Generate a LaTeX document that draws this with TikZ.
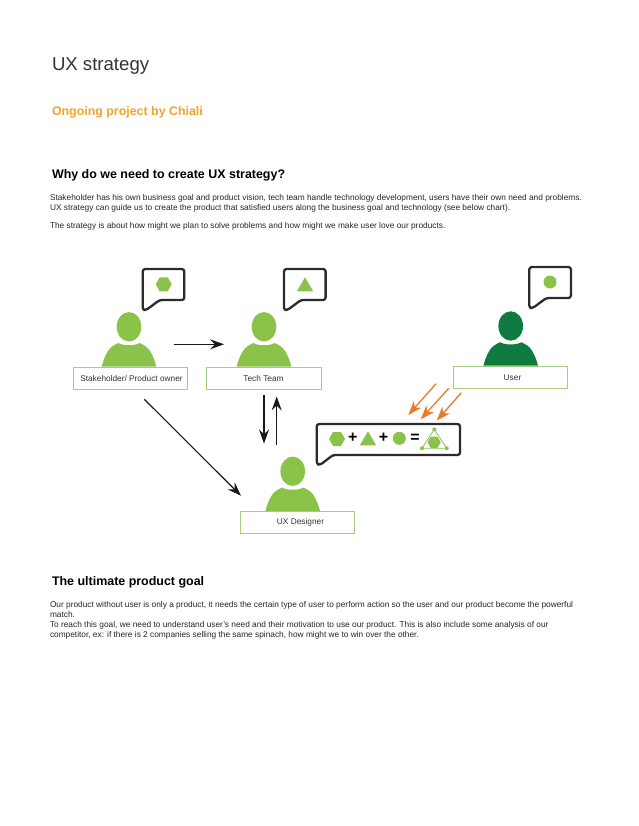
\documentclass[tikz,border=0pt]{standalone}
\usepackage{fontspec}
\setmainfont{Liberation Sans}
\usetikzlibrary{arrows.meta}
\definecolor{lgreen}{HTML}{8BC34A}
\definecolor{dgreen}{HTML}{107B41}
\definecolor{boxgreen}{HTML}{A9CC80}
\definecolor{inkk}{HTML}{2B2B2B}
\definecolor{orangeA}{HTML}{E97B30}
\definecolor{titleorange}{HTML}{F0A428}
\tikzset{
  x=1pt,y=-1pt,
  txt/.style={anchor=base west,inner sep=0pt,outer sep=0pt},
  body/.style={txt,font=\fontsize{8.32}{10}\selectfont,text=black!85},
  head/.style={txt,font=\fontsize{12.45}{15}\bfseries\selectfont,text=black},
  rolebox/.style={draw=boxgreen,line width=0.8pt,fill=white,minimum width=114.4pt,minimum height=22pt,inner sep=0pt,font=\fontsize{8.3}{10}\selectfont,text=black!80},
  rolelabel/.style={inner sep=0pt,font=\fontsize{8.3}{10}\selectfont,text=black!80},
  bubble/.style={draw=inkk,line width=2.3pt,fill=white,rounded corners=2.5pt,line join=round},
  flow/.style={draw=black!90,line width=1.1pt,-{Stealth[length=14pt,width=10pt,inset=5pt]}},
  oflow/.style={draw=orangeA,line width=1.3pt,-{Stealth[length=14pt,width=10pt,inset=4pt]}},
  sym/.style={inner sep=0pt,font=\fontsize{16}{16}\bfseries\selectfont,text=black},
  person/.pic={
    \fill[pic actions] (0,-39.7) ellipse[x radius=12.3,y radius=14.7];
    \fill[pic actions] (-27.3,0) .. controls (-26,-5) and (-24,-11) .. (-21,-15.5)
      .. controls (-19,-19) and (-15,-21.5) .. (-10.7,-23.5)
      .. controls (-6,-20.5) and (6,-20.5) .. (10.7,-23.5)
      .. controls (15,-21.5) and (19,-19) .. (21,-15.5)
      .. controls (24,-11) and (26,-5) .. (27.3,0) -- cycle;
  },
  speech/.pic={
    \draw[bubble] (0,0) -- (41.6,0) -- (41.6,31) -- (17,31) -- (3.5,41) -- (0,41) -- cycle;
  },
  hexa/.pic={
    \fill[lgreen] (-8,0) -- (-4,-7) -- (4,-7) -- (8,0) -- (4,7) -- (-4,7) -- cycle;
  },
  tri/.pic={
    \fill[lgreen] (-8.2,7) -- (0,-7) -- (8.2,7) -- cycle;
  }
}
\begin{document}
\begin{tikzpicture}
\useasboundingbox[fill=white] (0,0) rectangle (638,826);
% text
\node[txt,font=\fontsize{18.6}{22}\selectfont,text=black!80] (title) at (52,71) {UX strategy};
\node[txt,font=\fontsize{12.4}{15}\bfseries\selectfont,text=titleorange] (sub) at (52,116) {Ongoing project by Chiali};
\node[head] (h1) at (52,179) {Why do we need to create UX strategy?};
\node[body] (b1) at (50,201) {Stakeholder has his own business goal and product vision, tech team handle technology development, users have their own need and problems.};
\node[body] (b2) at (50,211) {UX strategy can guide us to create the product that satisfied users along the business goal and technology (see below chart).};
\node[body] (b3) at (50,229) {The strategy is about how might we plan to solve problems and how might we make user love our products.};
\node[head] (h2) at (52,585.5) {The ultimate product goal};
\node[body] (c1) at (50,607) {Our product without user is only a product, it needs the certain type of user to perform action so the user and our product become the powerful};
\node[body] (c2) at (50,617) {match.};
\node[body] (c3) at (50,627) {To reach this goal, we need to understand user's need and their motivation to use our product. This is also include some analysis of our};
\node[body] (c4) at (50,637) {competitor, ex: if there is 2 companies selling the same spinach, how might we to win over the other.};
% people
\pic[fill=lgreen] at (129,366.5) {person};
\pic[fill=lgreen] at (264,366.5) {person};
\pic[fill=dgreen] at (510.7,365.7) {person};
\pic[fill=lgreen] at (292.7,511) {person};
\node[rolebox] (stake) at (130.5,378.3) {};
\node[rolebox] (tech) at (264,378.3) {};
\node[rolebox] (user) at (510.5,377.3) {};
\node[rolebox] (ux) at (297.5,522) {};
\node[rolelabel] (stakel) at (131.5,379) {Stakeholder/ Product owner};
\node[rolelabel] (techl) at (263.5,379) {Tech Team};
\node[rolelabel] (userl) at (512.5,378) {User};
\node[rolelabel] (uxl) at (300.5,522.7) {UX Designer};
% bubbles
\pic at (142.7,269) {speech};
\pic at (284,269) {speech};
\pic at (529.3,267) {speech};
\pic at (163.7,284.3) {hexa};
\pic at (305,284.3) {tri};
\fill[lgreen] (550,282) circle[radius=6.5];
% equation bubble
\draw[bubble] (316.7,424) -- (460,424) -- (460,455) -- (333,455) -- (320,465) -- (316.7,464) -- cycle;
\pic at (337,439) {hexa};
\node[sym] (p1) at (352.7,437.7) {+};
\pic at (368,438.3) {tri};
\node[sym] (p2) at (383.5,437.7) {+};
\fill[lgreen] (399.3,438.3) circle[radius=6.5];
\node[sym] (eq) at (415,438) {=};
\draw[lgreen,line width=0.8pt] (434.3,429.3) -- (446.7,448.3) -- (422,448.3) -- cycle;
\fill[lgreen] (427.5,442.3) -- (430.8,436.6) -- (437.4,436.6) -- (440.7,442.3) -- (437.4,448) -- (430.8,448) -- cycle;
\foreach \p in {(434.3,429.3),(446.7,448.3),(422,448.3)} \fill[lgreen] \p circle[radius=2];
% connectors
\coordinate (a1) at (174.3,344.3); \coordinate (a2) at (224,344.3);
\coordinate (d1) at (264,395); \coordinate (d2) at (264,443.5);
\coordinate (u1) at (276.7,444.5); \coordinate (u2) at (276.7,396.5);
\coordinate (g1) at (144.3,399.3); \coordinate (g2) at (241,495.7);
\draw[flow] (a1) -- (a2);
\draw[flow] (d1) -- (d2);
\draw[flow] (u1) -- (u2);
\draw[flow] (g1) -- (g2);
\coordinate (o1s) at (436,383.7); \coordinate (o1e) at (408.3,415);
\coordinate (o2s) at (448.7,388.3); \coordinate (o2e) at (420.7,419.3);
\coordinate (o3s) at (461.3,392.7); \coordinate (o3e) at (436.7,420.7);
\draw[oflow] (o1s) -- (o1e);
\draw[oflow] (o2s) -- (o2e);
\draw[oflow] (o3s) -- (o3e);
\end{tikzpicture}
\end{document}
